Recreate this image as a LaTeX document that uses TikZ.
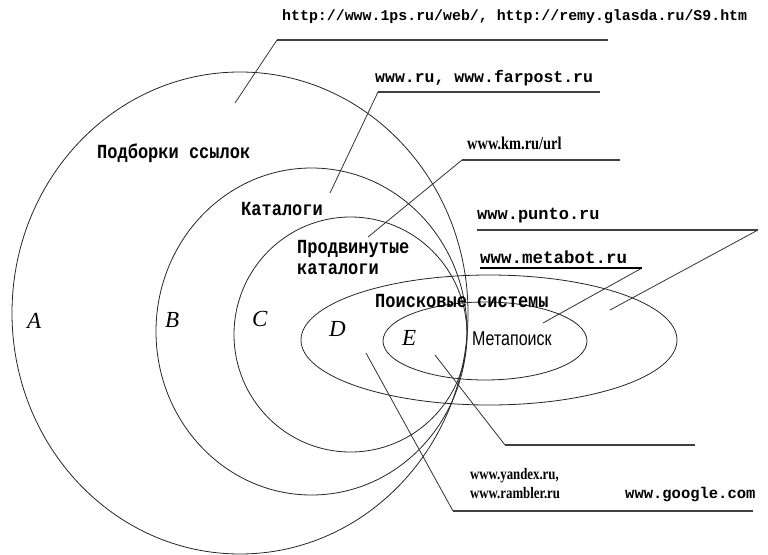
\documentclass[tikz,border=0pt]{standalone}
\usepackage{fontspec}
\setmainfont{Liberation Serif}
\newfontfamily\typefont{Liberation Mono}
\newfontfamily\narrowtype[FakeStretch=0.85]{Liberation Mono}
\newfontfamily\narrowserif[FakeStretch=0.8]{Liberation Serif}
\newfontfamily\plainsans[FakeStretch=0.8]{Liberation Sans}

\begin{document}
\begin{tikzpicture}[x=1pt,y=-1pt,
  ring/.style={draw=black!85, line width=0.8pt},
  leader/.style={draw=black!80, line width=0.8pt},
  rule/.style={draw=black!75, line width=1.1pt},
  lbl/.style={inner sep=0pt, anchor=base west},
  tt/.style={lbl, font={\typefont\bfseries\fontsize{#1}{#1}\selectfont}},
  cyr/.style={lbl, font={\narrowtype\bfseries\fontsize{20}{21}\selectfont}},
  rm/.style={lbl, font={\narrowserif\bfseries\fontsize{#1}{18.5}\selectfont}},
  set/.style={lbl, font={\itshape\fontsize{23}{23}\selectfont}}
]
\useasboundingbox (0,0) rectangle (768,554);
\fill[white] (0,0) rectangle (768,554);

% nested sets
\draw[ring] (240,313) ellipse [x radius=228pt, y radius=241pt];
\draw[ring] (311.5,331.5) ellipse [x radius=155.5pt, y radius=163.5pt];
\draw[ring] (350.5,334.5) ellipse [x radius=116.5pt, y radius=117.5pt];
\draw[ring] (489,340) ellipse [x radius=188pt, y radius=65pt];
\draw[ring] (485,341) ellipse [x radius=102pt, y radius=39pt];

% set letters
\node[set] (sA) at (27,328) {A};
\node[set] (sB) at (165,327) {B};
\node[set] (sC) at (252,326) {C};
\node[set] (sD) at (329,336) {D};
\node[set] (sE) at (402,345) {E};

% region names
\node[cyr] (links) at (97,158) {Подборки ссылок};
\node[cyr] (cat) at (241,215) {Каталоги};
\node[cyr, align=left, anchor=north west] (adv) at (297,240)
  {Продвинутые\\каталоги};
\node[cyr] (search) at (375,307) {Поисковые системы};
\node[lbl, font={\plainsans\fontsize{20}{20}\selectfont}] (meta) at (472,345)
  {Метапоиск};

% examples
\node[tt=14.9] (u1) at (282,20) {http://www.1ps.ru/web/, http://remy.glasda.ru/S9.htm};
\node[tt=16.5] (u2) at (375,82) {www.ru, www.farpost.ru};
\node[rm=18] (u3) at (467,149) {www.km.ru/url};
\node[tt=17] (u4) at (477,219) {www.punto.ru};
\node[tt=17.5] (u5) at (480,263) {www.metabot.ru};
\node[rm=16, align=left] (u6) at (470,498)
  {www.yandex.ru,\\www.rambler.ru};
\node[tt=15.5] (u7) at (625,498) {www.google.com};

% leader anchors
\coordinate (pA) at (235,103);
\coordinate (pB) at (330,193);
\coordinate (pC) at (368,237);
\coordinate (pD) at (366,353);
\coordinate (pE) at (435,355);
\coordinate (pS) at (610,310);
\coordinate (pM) at (543,323);

\coordinate (k1) at (277,40);  \coordinate (e1) at (608,40);
\coordinate (k2) at (378,92);  \coordinate (e2) at (600,92);
\coordinate (k3) at (462,160); \coordinate (e3) at (620,160);
\coordinate (k4) at (758,230); \coordinate (e4) at (477,230);
\coordinate (k5) at (642,268); \coordinate (e5) at (480,268);
\coordinate (k6) at (505,445); \coordinate (e6) at (695,445);
\coordinate (k7) at (453,511); \coordinate (e7) at (753,511);

\draw[leader] (pA) -- (k1);
\draw[leader] (pB) -- (k2);
\draw[leader] (pC) -- (k3);
\draw[leader] (pS) -- (k4);
\draw[leader] (pM) -- (k5);
\draw[leader] (pE) -- (k6);
\draw[leader] (pD) -- (k7);

\draw[rule] (k1) -- (e1);
\draw[rule] (k2) -- (e2);
\draw[rule] (k3) -- (e3);
\draw[rule] (k4) -- (e4);
\draw[rule, line width=2pt, draw=black] (k5) -- (e5);
\draw[rule] (k6) -- (e6);
\draw[rule] (k7) -- (e7);
\end{tikzpicture}
\end{document}
